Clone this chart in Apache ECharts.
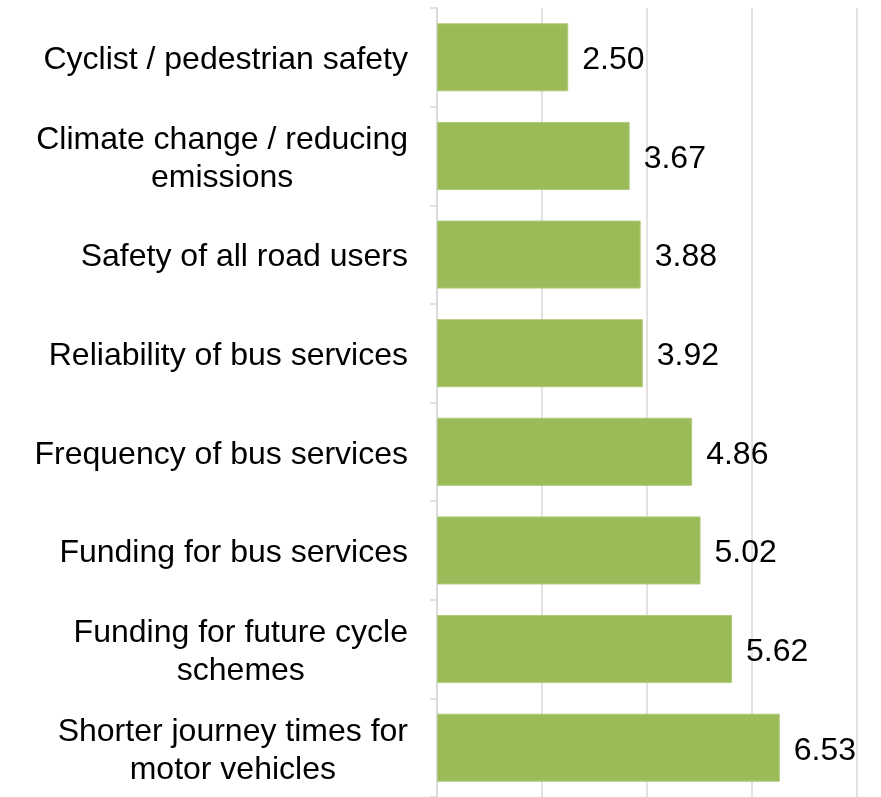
<!DOCTYPE html>
<html>
<head>
<meta charset="utf-8">
<script src="https://cdn.jsdelivr.net/npm/echarts@6/dist/echarts.min.js"></script>
<style>
  html, body { margin: 0; padding: 0; background: #fff; }
  #main { width: 881px; height: 797px; }
</style>
</head>
<body>
<div id="main"></div>
<script>
// categories, top to bottom
var categories = [
    'Cyclist / pedestrian safety',
    'Climate change / reducing\nemissions',
    'Safety of all road users',
    'Reliability of bus services',
    'Frequency of bus services',
    'Funding for bus services',
    'Funding for future cycle\nschemes',
    'Shorter journey times for\nmotor vehicles'
];
var scores = [2.50, 3.67, 3.88, 3.92, 4.86, 5.02, 5.62, 6.53];
var xTicks = [0, 2, 4, 6, 8];

var FONT = '"Liberation Sans", Arial, sans-serif';
var chart = echarts.init(document.getElementById('main'));

var option = {
    animation: false,
    grid: {
        top: 8,
        left: 437,
        right: 24,
        bottom: -3
    },
    xAxis: {
        type: 'value',
        min: xTicks[0],
        max: xTicks[xTicks.length - 1],
        interval: 2,
        axisLabel: { show: false },
        axisTick: { show: false },
        axisLine: { show: false },
        splitLine: {
            show: true,
            lineStyle: { color: '#d9d9d9', width: 1.5 }
        }
    },
    yAxis: {
        type: 'category',
        inverse: true,
        data: categories,
        axisLine: {
            show: true,
            lineStyle: { color: '#d9d9d9', width: 1.5 }
        },
        axisTick: {
            show: true,
            length: 7,
            lineStyle: { color: '#d9d9d9', width: 1.5 }
        },
        axisLabel: {
            margin: 29,
            align: 'right',
            padding: [6, 0, 0, 0],
            formatter: function (v) {
                return v.split('\n').map(function (s) { return '{c|' + s + '}'; }).join('\n');
            },
            rich: {
                c: {
                    align: 'center',
                    fontFamily: FONT,
                    fontSize: 32,
                    lineHeight: 38,
                    color: '#000'
                }
            }
        }
    },
    series: [{
        type: 'bar',
        data: scores,
        barCategoryGap: '31%',
        itemStyle: {
            color: '#9bbb59',
            borderColor: '#b0cb7d',
            borderWidth: 1
        },
        label: {
            show: true,
            position: 'right',
            distance: 14,
            offset: [0, 3],
            fontFamily: FONT,
            fontSize: 32,
            color: '#000',
            formatter: function (p) { return p.value.toFixed(2); }
        }
    }]
};

chart.setOption(option);
</script>
</body>
</html>
